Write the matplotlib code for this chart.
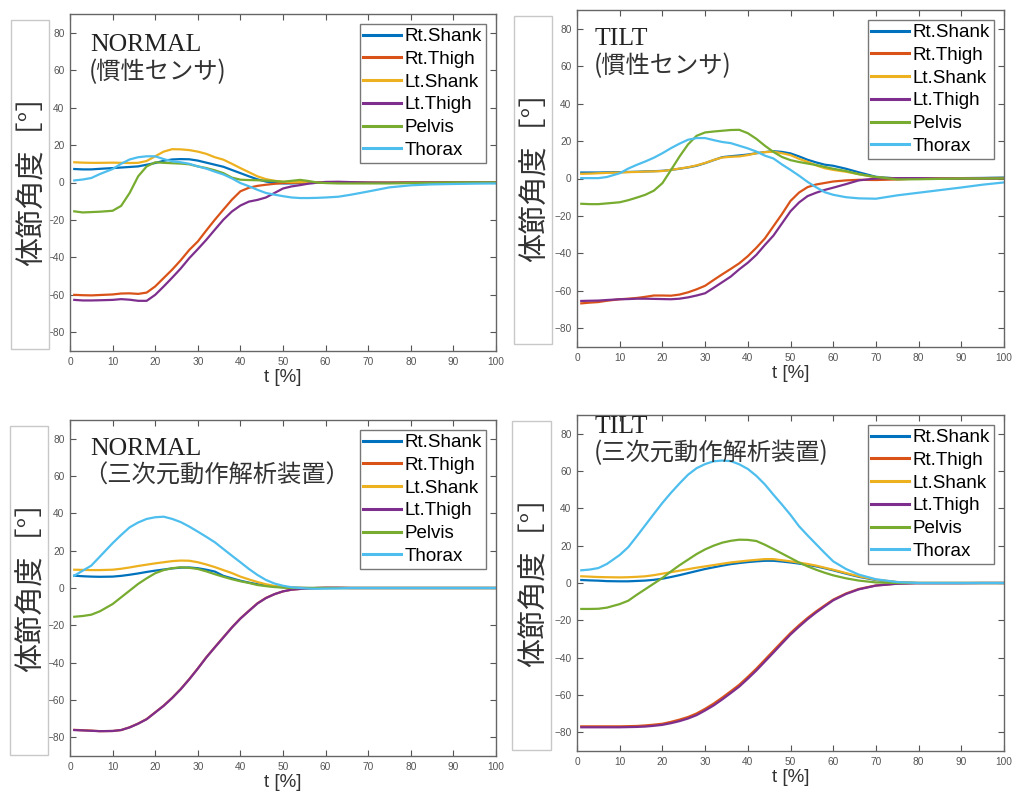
import matplotlib
matplotlib.use("Agg")
import matplotlib.pyplot as plt
from matplotlib.patches import Rectangle

plt.rcParams["font.family"] = ["Liberation Sans", "Noto Sans CJK JP", "DejaVu Sans"]

# ---------------- data ----------------
T = [1, 3, 5, 7, 10, 12, 14, 16, 18, 20, 22, 24, 26, 28, 30, 32, 34, 36, 38, 40,
     42, 44, 46, 48, 50, 52, 54, 56, 58, 60, 63, 66, 70, 75, 80, 85, 90, 95, 100]

labels = ["Rt.Shank", "Rt.Thigh", "Lt.Shank", "Lt.Thigh", "Pelvis", "Thorax"]
colors = ["#0072BD", "#D95319", "#EDB120", "#7E2F8E", "#77AC30", "#4DBEEE"]

# Panel 1: NORMAL (inertial sensor)
p1_rt_shank = [7.2, 7.0, 7.0, 7.3, 7.7, 8.0, 8.3, 8.6, 9.5, 10.4, 11.6, 12.3, 12.5, 12.4, 11.7, 10.6, 9.5, 8.4, 6.7, 5.0,
               3.3, 1.7, 0.5, -0.2, -0.5, -0.5, -0.3, -0.3, -0.2, -0.2, -0.2, -0.2, -0.2, -0.2, 0.0, 0.0, 0.0, 0.0, 0.0]
p1_rt_thigh = [-60.0, -60.2, -60.3, -60.1, -59.8, -59.3, -59.2, -59.5, -58.8, -55.5, -51.0, -46.5, -41.5, -36.0, -31.5, -25.6, -19.9, -14.5, -9.2, -4.7,
               -2.8, -1.8, -1.2, -0.7, -0.3, -0.2, 0.0, 0.0, 0.1, 0.2, 0.2, 0.0, -0.2, -0.2, 0.0, 0.0, 0.0, 0.0, 0.0]
p1_lt_shank = [10.8, 10.6, 10.5, 10.5, 10.6, 10.5, 10.4, 10.5, 11.5, 14.0, 16.5, 17.8, 17.7, 17.3, 16.5, 15.3, 13.5, 12.2, 10.0, 7.7,
               5.5, 3.3, 1.8, 0.9, 0.4, 0.2, 0.2, 0.0, 0.0, 0.0, 0.0, 0.0, 0.0, 0.0, 0.2, 0.2, 0.2, 0.2, 0.2]
p1_lt_thigh = [-62.7, -63.0, -63.0, -62.9, -62.7, -62.3, -62.6, -63.2, -63.2, -60.0, -55.5, -50.8, -45.9, -40.4, -35.6, -30.6, -25.2, -19.9, -15.5, -12.3,
               -10.2, -9.3, -8.0, -5.6, -3.2, -2.1, -1.4, -0.6, -0.1, 0.3, 0.4, 0.2, 0.0, -0.1, 0.0, 0.0, 0.0, 0.0, 0.0]
p1_pelvis = [-15.4, -16.0, -15.8, -15.6, -15.1, -12.5, -5.6, 3.3, 8.6, 10.8, 10.5, 10.3, 10.1, 9.7, 8.6, 7.7, 6.5, 5.0, 2.6, 1.5,
             1.3, 1.2, 1.0, 0.8, 0.4, 0.9, 1.4, 0.8, 0.0, -0.3, -0.5, -0.5, -0.5, -0.5, -0.3, -0.2, 0.0, 0.0, 0.0]
p1_thorax = [1.1, 1.6, 2.4, 4.5, 7.2, 10.0, 12.3, 13.5, 14.0, 14.0, 12.5, 11.3, 10.8, 10.0, 8.6, 7.4, 5.8, 4.3, 2.2, -0.3,
             -2.0, -3.9, -5.6, -6.5, -7.3, -8.0, -8.3, -8.3, -8.2, -8.0, -7.6, -6.5, -4.8, -2.6, -1.5, -1.0, -0.8, -0.6, -0.5]

# Panel 2: TILT (inertial sensor)
p2_rt_shank = [3.2, 3.2, 3.2, 3.3, 3.4, 3.5, 3.6, 3.8, 3.9, 4.1, 4.6, 5.2, 5.9, 6.8, 8.2, 9.8, 11.4, 11.9, 12.3, 12.8,
               13.5, 14.1, 14.6, 14.2, 13.4, 11.8, 10.0, 8.6, 7.4, 6.8, 5.2, 3.3, 0.9, 0.0, 0.0, 0.1, 0.2, 0.3, 0.5]
p2_rt_thigh = [-66.7, -66.3, -66.0, -65.3, -64.5, -64.2, -63.8, -63.2, -62.5, -62.5, -62.6, -62.0, -60.8, -59.2, -57.3, -54.2, -51.2, -48.3, -45.3, -41.5,
               -37.0, -32.0, -25.5, -19.0, -12.0, -7.5, -4.6, -3.2, -2.4, -1.6, -1.0, -0.7, -0.8, -0.5, 0.0, 0.0, 0.0, 0.0, 0.0]
p2_lt_shank = [2.5, 2.6, 2.8, 3.0, 3.2, 3.4, 3.5, 3.7, 3.8, 4.0, 4.6, 5.3, 6.0, 7.0, 8.3, 9.9, 11.2, 11.6, 11.8, 12.5,
               13.5, 14.1, 14.3, 13.5, 12.5, 10.5, 8.9, 7.0, 5.5, 4.6, 3.6, 2.3, 0.6, 0.0, 0.0, 0.1, 0.2, 0.2, 0.3]
p2_lt_thigh = [-65.4, -65.3, -65.2, -64.9, -64.5, -64.4, -64.2, -64.2, -64.3, -64.4, -64.5, -64.2, -63.5, -62.5, -61.3, -58.4, -55.4, -52.4, -48.5, -45.0,
               -40.8, -35.5, -30.5, -24.0, -17.5, -12.8, -9.4, -7.6, -6.1, -4.9, -3.0, -1.0, 0.0, 0.2, 0.2, 0.0, 0.0, 0.0, 0.0]
p2_pelvis = [-13.5, -13.7, -13.7, -13.3, -12.7, -11.6, -10.2, -8.7, -6.5, -2.5, 4.5, 11.7, 18.2, 22.8, 24.6, 25.1, 25.5, 25.9, 26.0, 24.2,
             21.2, 17.5, 14.2, 11.5, 9.8, 8.8, 8.0, 7.2, 6.2, 5.2, 4.0, 2.3, 0.8, -0.5, -0.4, -0.2, 0.0, 0.0, 0.0]
p2_thorax = [0.2, 0.2, 0.2, 0.8, 2.8, 5.3, 7.3, 9.1, 11.1, 13.5, 16.2, 18.6, 20.7, 21.6, 21.6, 20.5, 19.5, 18.9, 17.5, 16.1,
             14.4, 12.2, 10.7, 7.5, 4.6, 1.5, -1.8, -4.7, -7.3, -8.7, -10.0, -10.6, -10.8, -9.0, -7.6, -6.2, -4.8, -3.3, -2.1]

# Panel 3: NORMAL (3D motion analysis)
p3_rt_shank = [6.6, 6.3, 6.1, 6.0, 6.1, 6.5, 7.1, 7.8, 8.6, 9.3, 9.9, 10.5, 10.9, 11.0, 10.6, 9.8, 8.8, 6.5, 5.2, 3.9,
               2.9, 2.0, 1.3, 0.8, 0.4, 0.2, 0.1, 0.0, 0.0, 0.0, 0.0, 0.0, 0.0, 0.0, 0.0, 0.0, 0.0, 0.0, 0.0]
p3_rt_thigh = [-76.0, -76.2, -76.4, -76.7, -76.6, -76.1, -74.6, -72.6, -70.2, -66.6, -63.0, -58.8, -54.1, -48.8, -43.1, -37.1, -31.7, -26.4, -21.1, -16.3,
               -12.2, -8.2, -5.3, -3.3, -1.8, -0.9, -0.5, -0.2, 0.0, 0.1, 0.1, 0.0, 0.0, 0.0, 0.0, 0.0, 0.0, 0.0, 0.0]
p3_lt_shank = [9.8, 9.7, 9.6, 9.6, 9.8, 10.3, 11.0, 11.8, 12.5, 13.2, 13.8, 14.4, 14.7, 14.6, 13.8, 12.6, 11.2, 9.6, 8.0, 6.1,
               4.6, 3.2, 2.0, 1.1, 0.4, 0.2, 0.1, 0.0, 0.0, 0.0, 0.0, 0.0, 0.0, 0.0, 0.0, 0.0, 0.0, 0.0, 0.0]
p3_lt_thigh = [-76.1, -76.3, -76.5, -76.7, -76.6, -76.1, -74.7, -72.7, -70.3, -66.7, -63.1, -58.9, -54.2, -48.9, -43.2, -37.2, -31.8, -26.5, -21.2, -16.4,
               -12.3, -8.3, -5.4, -3.3, -1.8, -0.9, -0.5, -0.2, 0.0, 0.1, 0.1, 0.0, 0.0, 0.0, 0.0, 0.0, 0.0, 0.0, 0.0]
p3_pelvis = [-15.4, -15.0, -14.3, -12.5, -8.6, -5.0, -1.4, 2.2, 5.2, 7.9, 9.6, 10.6, 11.1, 10.8, 10.2, 8.9, 7.4, 6.0, 4.7, 3.6,
             2.7, 1.6, 1.0, 0.5, 0.2, 0.0, 0.0, 0.0, 0.0, 0.0, 0.0, 0.0, 0.0, 0.0, 0.0, 0.0, 0.0, 0.0, 0.0]
p3_thorax = [6.6, 9.3, 12.0, 16.8, 24.0, 28.4, 32.5, 35.1, 37.0, 37.9, 38.2, 37.0, 35.3, 32.9, 30.2, 27.4, 24.5, 20.9, 17.3, 13.8,
             10.2, 7.0, 4.3, 2.4, 1.2, 0.4, 0.0, -0.3, -0.4, -0.3, -0.2, 0.0, 0.0, 0.0, 0.0, 0.0, 0.0, 0.0, 0.0]

# Panel 4: TILT (3D motion analysis)
p4_rt_shank = [1.6, 1.4, 1.25, 1.0, 0.9, 0.9, 1.1, 1.3, 1.7, 2.3, 3.2, 4.2, 5.3, 6.4, 7.5, 8.4, 9.3, 10.1, 10.7, 11.2,
               11.6, 11.9, 11.9, 11.5, 11.0, 10.4, 9.7, 8.9, 7.9, 6.8, 5.0, 3.3, 1.6, 0.4, 0.0, 0.0, 0.0, 0.0, 0.0]
p4_rt_thigh = [-76.8, -76.8, -76.8, -76.8, -76.8, -76.7, -76.6, -76.3, -75.9, -75.4, -74.4, -73.2, -71.8, -69.9, -67.4, -64.6, -61.4, -58.0, -54.5, -50.3,
               -45.9, -41.1, -36.3, -31.5, -26.8, -22.6, -18.7, -15.2, -12.0, -8.9, -5.6, -3.2, -1.3, -0.3, 0.0, 0.0, 0.0, 0.0, 0.0]
p4_lt_shank = [3.6, 3.4, 3.2, 3.1, 3.0, 3.1, 3.3, 3.6, 4.2, 5.0, 5.8, 6.6, 7.4, 8.2, 8.9, 9.6, 10.3, 11.0, 11.5, 12.0,
               12.4, 12.8, 12.8, 12.2, 11.6, 10.9, 10.2, 9.3, 8.2, 7.1, 5.3, 3.6, 1.8, 0.5, 0.0, 0.0, 0.0, 0.0, 0.0]
p4_lt_thigh = [-77.3, -77.3, -77.3, -77.3, -77.3, -77.2, -77.1, -76.9, -76.5, -76.0, -75.1, -74.0, -72.6, -70.8, -68.3, -65.6, -62.4, -59.0, -55.5, -51.3,
               -46.9, -42.1, -37.3, -32.4, -27.6, -23.4, -19.4, -15.8, -12.5, -9.3, -5.9, -3.4, -1.4, -0.4, -0.1, -0.1, -0.1, 0.0, 0.0]
p4_pelvis = [-13.9, -13.9, -13.8, -13.2, -11.3, -9.5, -6.3, -3.3, -0.3, 2.7, 6.2, 9.5, 12.5, 15.5, 18.0, 20.0, 21.6, 22.6, 23.2, 23.1,
             22.5, 20.5, 18.2, 15.8, 13.4, 11.0, 8.9, 7.1, 5.5, 4.1, 2.5, 1.3, 0.3, 0.0, 0.0, 0.0, 0.0, 0.0, 0.0]
p4_thorax = [6.8, 7.2, 8.0, 10.2, 15.0, 19.2, 25.0, 31.0, 37.0, 42.9, 48.3, 53.3, 58.0, 61.5, 63.7, 65.2, 65.6, 65.3, 63.6, 61.1,
             57.4, 52.8, 47.3, 42.0, 36.5, 30.4, 25.5, 20.8, 16.1, 11.6, 7.5, 4.5, 2.0, 0.5, 0.0, 0.0, 0.0, 0.0, 0.0]

x_ticks = [0, 10, 20, 30, 40, 50, 60, 70, 80, 90, 100]
y_ticks = [-80, -60, -40, -20, 0, 20, 40, 60, 80]
x_label = "t [%]"
y_label = "体節角度［°］"

W, H = 1016, 797

panels = [
    dict(ax=(70, 14, 496, 351), box=(11, 20, 49, 349),
         titles=[("NORMAL", 90, 51, "serif"), ("(慣性センサ)", 89, 72, "cjk")],
         data=[p1_rt_shank, p1_rt_thigh, p1_lt_shank, p1_lt_thigh, p1_pelvis, p1_thorax]),
    dict(ax=(577, 10, 1004, 347), box=(514, 16, 552, 344),
         titles=[("TILT", 595, 45, "serif"), ("(慣性センサ)", 594, 66, "cjk")],
         data=[p2_rt_shank, p2_rt_thigh, p2_lt_shank, p2_lt_thigh, p2_pelvis, p2_thorax]),
    dict(ax=(70, 420, 496, 756), box=(10, 426, 48, 755),
         titles=[("NORMAL", 90, 455, "serif"), ("（三次元動作解析装置）", 83, 476, "cjk")],
         data=[p3_rt_shank, p3_rt_thigh, p3_lt_shank, p3_lt_thigh, p3_pelvis, p3_thorax]),
    dict(ax=(577, 415, 1004, 751), box=(512, 421, 551, 750),
         titles=[("TILT", 595, 433, "serif"), ("(三次元動作解析装置)", 594, 453, "cjk")],
         data=[p4_rt_shank, p4_rt_thigh, p4_lt_shank, p4_lt_thigh, p4_pelvis, p4_thorax]),
]

fig = plt.figure(figsize=(W / 100, H / 100), dpi=100)
fig.patch.set_facecolor("white")

for p in panels:
    l, t, r, b = p["ax"]
    ax = fig.add_axes([l / W, 1 - b / H, (r - l) / W, (b - t) / H])
    for ys, lab, c in zip(p["data"], labels, colors):
        ax.plot(T, ys, color=c, lw=1.6, label=lab)
    ax.set_xlim(0, 100)
    ax.set_ylim(-90, 90)
    ax.set_xticks(x_ticks)
    ax.set_yticks(y_ticks)
    ax.tick_params(direction="in", top=True, right=True, length=4, width=0.8,
                   labelsize=7.3, labelcolor="#555555", color="#555555", pad=4)
    for s in ax.spines.values():
        s.set_color("#666666")
        s.set_linewidth(1.0)
    ax.set_xlabel(x_label, fontsize=13.5, color="#333333", labelpad=2)
    leg = ax.legend(loc="upper right", fontsize=13.5, frameon=True, fancybox=False,
                    labelspacing=0.3, handlelength=2.0, handletextpad=0.2,
                    borderpad=0.2, borderaxespad=0.55)
    leg.get_frame().set_edgecolor("#555555")
    leg.get_frame().set_linewidth(1.0)
    for line in leg.get_lines():
        line.set_linewidth(2.2)

    # y-label box
    bl, bt, br, bb = p["box"]
    fig.patches.append(Rectangle((bl / W, 1 - bb / H), (br - bl) / W, (bb - bt) / H,
                                 transform=fig.transFigure, facecolor="white",
                                 edgecolor="#c8c8c8", lw=1.0))
    fig.text(((bl + br) / 2 + 3) / W, 1 - ((bt + bb) / 2 - 11) / H, y_label, rotation=90,
             ha="center", va="center", fontsize=21, color="#333333",
             family=["Noto Sans CJK JP", "DejaVu Sans"])

    for txt, x, y, kind in p["titles"]:
        if kind == "serif":
            fig.text(x / W, 1 - y / H, txt, ha="left", va="baseline",
                     fontsize=18.5, color="#222222", family=["Liberation Serif"])
        else:
            fig.text(x / W, 1 - y / H, txt, ha="left", va="center",
                     fontsize=17.5, color="#333333",
                     family=["Noto Sans CJK JP", "DejaVu Sans"])

fig.savefig("out.png", dpi=100, facecolor="white")
